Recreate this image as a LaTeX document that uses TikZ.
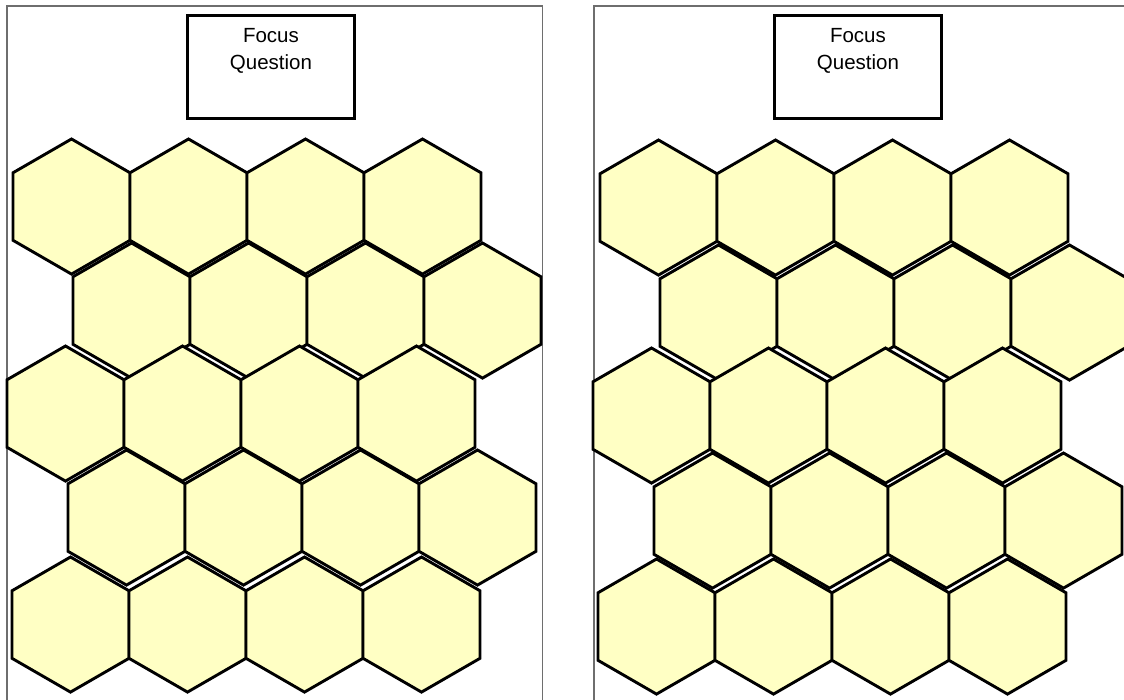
\documentclass[tikz,border=0pt]{standalone}
\usepackage{fontspec}
\setmainfont{Liberation Sans}
\begin{document}
\begin{tikzpicture}[x=1pt,y=-1pt]
\definecolor{hexfill}{RGB}{255,255,196}
\definecolor{framegray}{RGB}{110,110,110}
\tikzset{
  hexcell/.style={draw=black,line width=2.9pt,fill=hexfill,line join=miter},
  panelframe/.style={draw=framegray,line width=1.3pt},
  focusbox/.style={draw=black,line width=2.9pt,fill=white,minimum width=167pt,minimum height=103pt,inner sep=0pt},
  focustext/.style={font=\fontsize{20.5}{27}\selectfont,align=center,anchor=north}
}
\useasboundingbox (0,0) rectangle (1124,700);
% panel frames
\draw[panelframe] (7,720) -- (7,6) -- (542.5,6) -- (542.5,720);
\draw[panelframe] (594,720) -- (594,6) -- (1140,6);
% hexagon macro: left edge x, top y
\def\hexw{117}
\pgfmathsetmacro{\hexr}{117/sqrt(3)}
\newcommand{\hexat}[2]{%
  \draw[hexcell] ({#1+\hexw/2},{#2}) -- ({#1+\hexw},{#2+\hexr/2}) -- ({#1+\hexw},{#2+1.5*\hexr})
    -- ({#1+\hexw/2},{#2+2*\hexr}) -- ({#1},{#2+1.5*\hexr}) -- ({#1},{#2+\hexr/2}) -- cycle;}
\newcommand{\hexrow}[2]{%
  \foreach \k in {0,1,2,3} {\hexat{#1+\k*\hexw}{#2}}}
% left panel
\hexrow{13}{139}
\hexrow{73}{243}
\hexrow{7}{346}
\hexrow{68}{450}
\hexrow{12}{557}
% right panel
\hexrow{600}{140}
\hexrow{660}{245}
\hexrow{593}{348}
\hexrow{654}{453}
\hexrow{598}{559}
% focus boxes
\node[focusbox,anchor=north west] (fqL) at (186,14) {};
\node[focustext] (fqLt) at (fqL.north) [yshift=-11pt] {Focus\\Question};
\node[focusbox,anchor=north west] (fqR) at (773,14) {};
\node[focustext] (fqRt) at (fqR.north) [yshift=-11pt] {Focus\\Question};
\end{tikzpicture}
\end{document}
